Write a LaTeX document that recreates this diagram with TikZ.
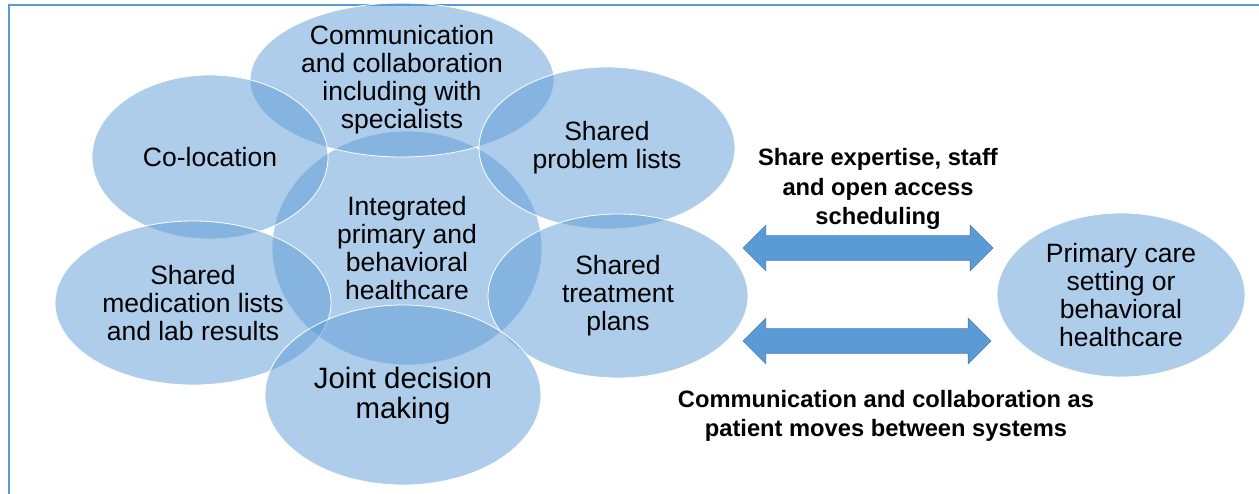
\documentclass[tikz,border=0pt]{standalone}
\usepackage{fontspec}
\setmainfont{Liberation Sans}
\usetikzlibrary{shapes.geometric,shapes.arrows}

\definecolor{blobblue}{RGB}{91,155,213}
\definecolor{arrowrim}{RGB}{72,128,182}

\tikzset{
  blob/.style={ellipse,fill=blobblue,fill opacity=0.5,draw=white,draw opacity=1,line width=0.8pt,inner sep=0pt},
  lbl/.style={align=center,font=\fontsize{26.5}{28}\selectfont},
  boldlbl/.style={align=center,font=\bfseries\fontsize{23.7}{29.5}\selectfont},
  dblarrow/.style={double arrow,double arrow head extend=10.5pt,double arrow tip angle=90,
    fill=blobblue,draw=arrowrim,line width=0.6pt,inner xsep=0pt,inner ysep=12pt}
}

\begin{document}
\begin{tikzpicture}[x=1pt,y=-1pt]
          \useasboundingbox (0,0) rectangle (1259,494);
          \draw[blobblue,line width=2pt] (9,494) |- (1259,5);
          % the ellipses first, the words on top
          \foreach \n/\x/\y/\w/\h in {core/407/248/270/234,comm/402/80/304/154,coloc/210/157/236/164,
              problem/607/148/256/162,meds/193/303/276/164,plans/618/296/260/164,
              joint/403/395/276/180,setting/1121/295/248/164}{
            \node[blob,minimum width=\w pt,minimum height=\h pt] (\n) at (\x,\y) {};}
          \node[lbl] (core-t) at (core) {Integrated\\primary and\\behavioral\\healthcare};
          \node[lbl] (comm-t) at (comm) {Communication\\and collaboration\\including with\\specialists};
          \node[lbl] (coloc-t) at (coloc) {Co-location};
          \node[lbl] (problem-t) at (problem) {Shared\\problem lists};
          \node[lbl] (meds-t) at (meds) {Shared\\medication lists\\and lab results};
          \node[lbl] (plans-t) at (plans) {Shared\\treatment\\plans};
          \node[lbl,font=\fontsize{29.4}{30}\selectfont] (joint-t) at (403,396) {Joint decision\\making};
          \node[lbl] (setting-t) at (setting) {Primary care\\setting or\\behavioral\\healthcare};
          % the two links to the other system
          \node[dblarrow,minimum height=250pt] (share) at (868,248) {};
          \node[dblarrow,minimum height=248pt] (move) at (867,341) {};
          \node[boldlbl] (share-t) at (878,189) {Share expertise, staff\\and open access\\scheduling};
          \node[boldlbl] (move-t) at (886,416) {Communication and collaboration as\\patient moves between systems};
        \end{tikzpicture}
\end{document}
